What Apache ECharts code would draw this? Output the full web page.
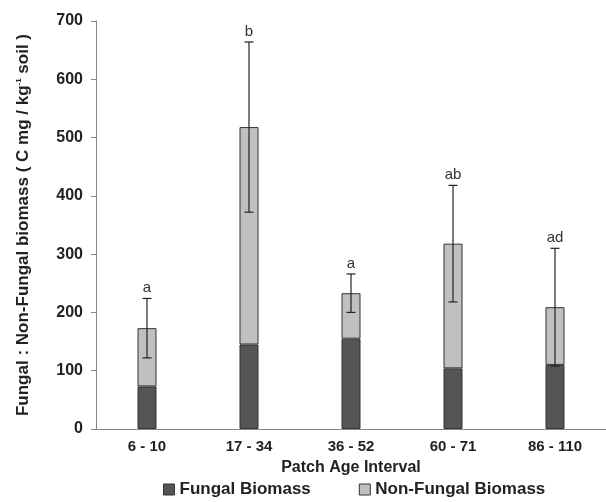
<!DOCTYPE html>
<html><head><meta charset="utf-8">
<script src="https://cdn.jsdelivr.net/npm/echarts@6/dist/echarts.min.js"></script>
<style>html,body{margin:0;padding:0;background:#fff}#c{width:606px;height:502px}</style>
</head><body><div id="c"></div>
<script>
const categories = ['6 - 10', '17 - 34', '36 - 52', '60 - 71', '86 - 110'];
const fungal = [73, 145, 155, 104, 110];
const nonFungal = [100, 373, 78, 214, 99];
const errors = [51, 146, 33, 100, 101];
const letters = ['a', 'b', 'a', 'ab', 'ad'];

const totals = fungal.map((f, i) => f + nonFungal[i]);
const errData = totals.map((t, i) => [i, t, errors[i], letters[i]]);

const chart = echarts.init(document.getElementById('c'));
const font = 'Liberation Sans, Arial, sans-serif';
chart.setOption({
  animation: false,
  textStyle: { fontFamily: font },
  grid: { left: 96, right: 0, top: 21, bottom: 73, containLabel: false, outerBoundsMode: 'none' },
  legend: {
    top: 481, left: 163, itemWidth: 11, itemHeight: 11, itemGap: 48,
    icon: 'rect', padding: 0,
    textStyle: { fontSize: 17, fontWeight: 'bold', color: '#222', fontFamily: font },
    data: [
      { name: 'Fungal Biomass', itemStyle: { color: '#555555', borderColor: '#333', borderWidth: 1 } },
      { name: 'Non-Fungal Biomass', itemStyle: { color: '#c0c0c0', borderColor: '#333', borderWidth: 1 } }
    ]
  },
  xAxis: {
    type: 'category', data: categories,
    name: 'Patch Age Interval', nameLocation: 'middle', nameGap: 39,
    nameTextStyle: { fontSize: 16, fontWeight: 'bold', color: '#222', fontFamily: font, verticalAlign: 'middle' },
    axisLine: { lineStyle: { color: '#888', width: 1 } },
    axisTick: { length: 5, lineStyle: { color: '#888' } },
    axisLabel: { fontSize: 15, fontWeight: 'bold', color: '#222', margin: 10, fontFamily: font }
  },
  yAxis: {
    type: 'value', min: 0, max: 700, interval: 100,
    name: 'Fungal : Non-Fungal biomass ( C mg / kg{sup|-1} soil )',
    nameLocation: 'middle', nameGap: 64,
    nameTextStyle: { fontSize: 17, fontWeight: 'bold', color: '#222', fontFamily: font,
      rich: { sup: { fontSize: 8, fontWeight: 'bold', color: '#222', verticalAlign: 'top', padding: [0, 0, 9, 0] } } },
    splitLine: { show: false },
    axisLine: { show: true, lineStyle: { color: '#888', width: 1 } },
    axisTick: { show: true, length: 5, lineStyle: { color: '#888' } },
    axisLabel: { fontSize: 16, fontWeight: 'bold', color: '#222', margin: 13, fontFamily: font }
  },
  series: [
    { name: 'Fungal Biomass', type: 'bar', stack: 'b', data: fungal, barWidth: 19,
      itemStyle: { color: '#555555', borderColor: '#333', borderWidth: 1 } },
    { name: 'Non-Fungal Biomass', type: 'bar', stack: 'b', data: nonFungal, barWidth: 19,
      itemStyle: { color: '#c0c0c0', borderColor: '#333', borderWidth: 1 } },
    { type: 'custom', name: 'err', data: errData, z: 10,
      renderItem: function (params, api) {
        const i = api.value(0), t = api.value(1), e = api.value(2);
        const top = api.coord([i, t + e]);
        const bot = api.coord([i, t - e]);
        const hw = 4.5;
        const st = { stroke: '#222', lineWidth: 1.2 };
        return { type: 'group', children: [
          { type: 'line', shape: { x1: top[0], y1: top[1], x2: bot[0], y2: bot[1] }, style: st },
          { type: 'line', shape: { x1: top[0] - hw, y1: top[1], x2: top[0] + hw, y2: top[1] }, style: st },
          { type: 'line', shape: { x1: bot[0] - hw, y1: bot[1], x2: bot[0] + hw, y2: bot[1] }, style: st },
          { type: 'text', style: { text: letters[params.dataIndex], x: top[0], y: top[1] - 3,
              textAlign: 'center', textVerticalAlign: 'bottom', fontSize: 15, fill: '#333', fontFamily: font } }
        ] };
      }
    }
  ]
});
</script></body></html>
